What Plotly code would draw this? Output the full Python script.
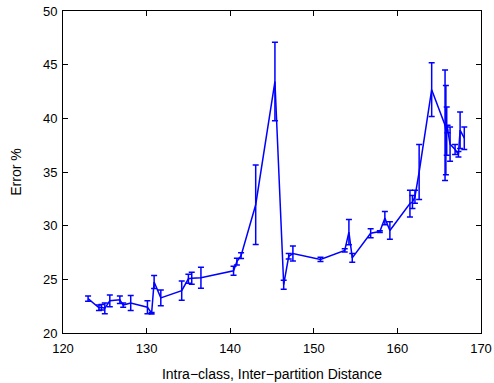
import plotly.graph_objects as go

distance = [123.0, 124.3, 124.6, 125.0, 125.6, 126.8, 127.2, 128.1, 130.1, 130.6,
            130.9, 131.7, 134.2, 135.0, 135.4, 136.5, 140.4, 140.8, 141.3, 143.05,
            145.35, 146.4, 147.0, 147.5, 150.8, 153.7, 154.2, 154.6, 156.8, 157.9,
            158.5, 159.1, 161.5, 161.8, 162.1, 162.6, 164.1, 165.7, 165.8, 165.9,
            166.0, 166.3, 166.9, 167.3, 167.5, 168.0]
error_pct = [23.2, 22.35, 22.4, 22.3, 23.0, 23.1, 22.6, 22.8, 22.4, 21.85,
             24.75, 23.27, 23.95, 25.05, 25.1, 25.14, 25.8, 26.65, 27.2, 31.95,
             43.43, 24.5, 27.15, 27.4, 26.85, 27.7, 29.4, 27.0, 29.3, 29.45,
             30.7, 29.55, 32.05, 32.2, 32.7, 35.0, 42.67, 39.35, 38.9, 38.8,
             39.0, 37.6, 37.1, 36.65, 38.9, 38.15]
error_dev = [0.25, 0.25, 0.25, 0.5, 0.55, 0.35, 0.2, 0.7, 0.6, 0.07,
             0.6, 0.73, 0.9, 0.42, 0.56, 0.98, 0.42, 0.32, 0.27, 3.7,
             3.65, 0.42, 0.25, 0.7, 0.2, 0.15, 1.17, 0.4, 0.42, 0.08,
             0.62, 0.82, 1.25, 0.6, 0.6, 2.56, 2.5, 5.15, 4.16, 2.25,
             0.35, 1.6, 0.47, 0.25, 1.7, 1.05]

x_ticks = [120, 130, 140, 150, 160, 170]
y_ticks = [20, 25, 30, 35, 40, 45, 50]

FONT = "Liberation Sans, Arial"

fig = go.Figure()
fig.add_trace(go.Scatter(
    x=distance, y=error_pct, mode="lines",
    line=dict(color="#0000ff", width=1.5),
    error_y=dict(type="data", array=error_dev, visible=True,
                 color="#0000ff", thickness=1.5, width=3),
    showlegend=False,
))

axis_common = dict(
    showgrid=False, zeroline=False, showline=True, linecolor="black",
    linewidth=1, mirror="allticks", ticks="inside", ticklen=5,
    tickcolor="black", tickfont=dict(family=FONT, size=13, color="black"),
    automargin=False,
)
fig.update_xaxes(range=[120, 170], tickvals=x_ticks, ticklabelstandoff=3,
                 title=dict(text="Intra\u2212class, Inter\u2212partition Distance",
                            font=dict(family=FONT, size=14, color="black"),
                            standoff=14),
                 **axis_common)
fig.update_yaxes(range=[20, 50], tickvals=y_ticks, ticklabelstandoff=2,
                 title=dict(text="Error %",
                            font=dict(family=FONT, size=14, color="black"),
                            standoff=18),
                 **axis_common)
fig.update_layout(
    width=494, height=383,
    margin=dict(l=63, r=13, t=11, b=50),
    plot_bgcolor="white", paper_bgcolor="white",
)
fig.write_html("out.html")
